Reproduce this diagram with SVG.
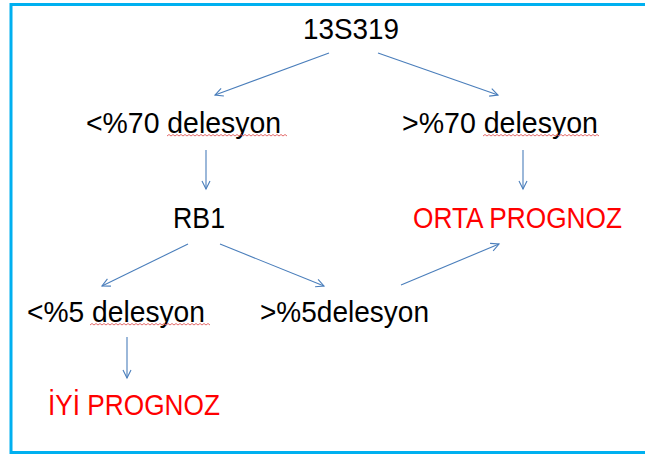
<svg xmlns="http://www.w3.org/2000/svg" width="645" height="454" viewBox="0 0 645 454">
<style>
.t{font-family:"Liberation Sans",Arial,sans-serif;font-size:29px;fill:#000}
.r{fill:#ff0000}
.c{stroke:#4a7ebb;stroke-width:1.1;fill:none}
.sq{stroke:#e05a5a;stroke-width:0.9;fill:none}
</style>
<defs>
<marker id="ah" markerWidth="12" markerHeight="12" refX="9" refY="5" orient="auto" markerUnits="userSpaceOnUse">
<path d="M1,1 L9,5 L1,9" fill="none" stroke="#4a7ebb" stroke-width="1.1"/>
</marker>
</defs>
<rect width="645" height="454" fill="#fff"/>
<rect x="11" y="4.5" width="700" height="448" fill="none" stroke="#00b0f0" stroke-width="3"/>
<g id="connectors">
<line class="c" x1="329" y1="53" x2="215" y2="95" marker-end="url(#ah)"/>
<line class="c" x1="378" y1="53" x2="498" y2="95" marker-end="url(#ah)"/>
<line class="c" x1="206" y1="150" x2="206" y2="189" marker-end="url(#ah)"/>
<line class="c" x1="523" y1="150" x2="523" y2="189" marker-end="url(#ah)"/>
<line class="c" x1="188" y1="244" x2="102" y2="286" marker-end="url(#ah)"/>
<line class="c" x1="220" y1="244" x2="324" y2="286" marker-end="url(#ah)"/>
<line class="c" x1="401" y1="285" x2="499" y2="244" marker-end="url(#ah)"/>
<line class="c" x1="127" y1="337" x2="127" y2="378" marker-end="url(#ah)"/>
</g>
<g id="n13S319"><text class="t" x="303" y="39" textLength="96" lengthAdjust="spacingAndGlyphs">13S319</text></g>
<g id="nLt70">
<text class="t" x="86" y="133" textLength="195" lengthAdjust="spacingAndGlyphs">&lt;%70 delesyon</text>
<path class="sq" d="M167,136 l2,-1.5 l2,1.5 l2,-1.5 l2,1.5 l2,-1.5 l2,1.5 l2,-1.5 l2,1.5 l2,-1.5 l2,1.5 l2,-1.5 l2,1.5 l2,-1.5 l2,1.5 l2,-1.5 l2,1.5 l2,-1.5 l2,1.5 l2,-1.5 l2,1.5 l2,-1.5 l2,1.5 l2,-1.5 l2,1.5 l2,-1.5 l2,1.5 l2,-1.5 l2,1.5 l2,-1.5 l2,1.5 l2,-1.5 l2,1.5 l2,-1.5 l2,1.5 l2,-1.5 l2,1.5 l2,-1.5 l2,1.5 l2,-1.5 l2,1.5 l2,-1.5 l2,1.5 l2,-1.5 l2,1.5 l2,-1.5 l2,1.5 l2,-1.5 l2,1.5 l2,-1.5 l2,1.5 l2,-1.5 l2,1.5 l2,-1.5 l2,1.5 l2,-1.5 l2,1.5 l2,-1.5 l2,1.5 l2,-1.5 l2,1.5"/>
</g>
<g id="nGt70">
<text class="t" x="402" y="133" textLength="196" lengthAdjust="spacingAndGlyphs">&gt;%70 delesyon</text>
<path class="sq" d="M483,136 l2,-1.5 l2,1.5 l2,-1.5 l2,1.5 l2,-1.5 l2,1.5 l2,-1.5 l2,1.5 l2,-1.5 l2,1.5 l2,-1.5 l2,1.5 l2,-1.5 l2,1.5 l2,-1.5 l2,1.5 l2,-1.5 l2,1.5 l2,-1.5 l2,1.5 l2,-1.5 l2,1.5 l2,-1.5 l2,1.5 l2,-1.5 l2,1.5 l2,-1.5 l2,1.5 l2,-1.5 l2,1.5 l2,-1.5 l2,1.5 l2,-1.5 l2,1.5 l2,-1.5 l2,1.5 l2,-1.5 l2,1.5 l2,-1.5 l2,1.5 l2,-1.5 l2,1.5 l2,-1.5 l2,1.5 l2,-1.5 l2,1.5 l2,-1.5 l2,1.5 l2,-1.5 l2,1.5 l2,-1.5 l2,1.5 l2,-1.5 l2,1.5 l2,-1.5 l2,1.5 l2,-1.5 l2,1.5"/>
</g>
<g id="nRB1"><text class="t" x="173" y="228" textLength="52" lengthAdjust="spacingAndGlyphs">RB1</text></g>
<g id="nOrta"><text class="t r" x="413" y="228" textLength="209" lengthAdjust="spacingAndGlyphs">ORTA PROGNOZ</text></g>
<g id="nLt5">
<text class="t" x="27" y="322" textLength="178" lengthAdjust="spacingAndGlyphs">&lt;%5 delesyon</text>
<path class="sq" d="M90,325 l2,-1.5 l2,1.5 l2,-1.5 l2,1.5 l2,-1.5 l2,1.5 l2,-1.5 l2,1.5 l2,-1.5 l2,1.5 l2,-1.5 l2,1.5 l2,-1.5 l2,1.5 l2,-1.5 l2,1.5 l2,-1.5 l2,1.5 l2,-1.5 l2,1.5 l2,-1.5 l2,1.5 l2,-1.5 l2,1.5 l2,-1.5 l2,1.5 l2,-1.5 l2,1.5 l2,-1.5 l2,1.5 l2,-1.5 l2,1.5 l2,-1.5 l2,1.5 l2,-1.5 l2,1.5 l2,-1.5 l2,1.5 l2,-1.5 l2,1.5 l2,-1.5 l2,1.5 l2,-1.5 l2,1.5 l2,-1.5 l2,1.5 l2,-1.5 l2,1.5 l2,-1.5 l2,1.5 l2,-1.5 l2,1.5 l2,-1.5 l2,1.5 l2,-1.5 l2,1.5 l2,-1.5 l2,1.5 l2,-1.5 l2,1.5"/>
</g>
<g id="nGt5"><text class="t" x="260" y="322" textLength="169" lengthAdjust="spacingAndGlyphs">&gt;%5delesyon</text></g>
<g id="nIyi"><text class="t r" x="48" y="415" textLength="172" lengthAdjust="spacingAndGlyphs">İYİ PROGNOZ</text></g>
</svg>
